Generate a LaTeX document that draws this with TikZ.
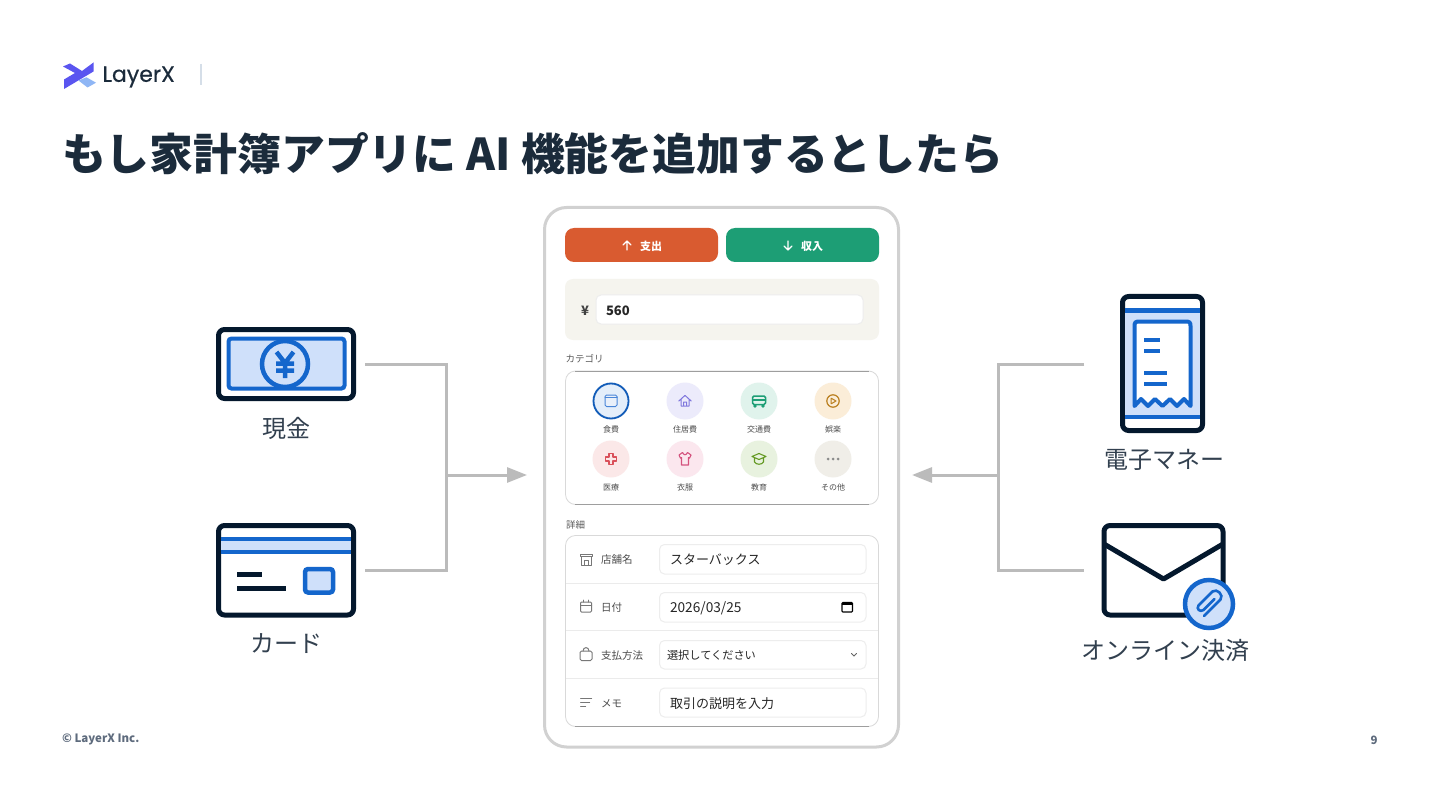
\documentclass[tikz,border=0pt]{standalone}
\usepackage{fontspec}
\setmainfont{Noto Sans CJK JP}
\newfontfamily\logofont[FakeBold=0.5]{Poppins}
\usetikzlibrary{arrows.meta,calc}
\definecolor{ink}{HTML}{1B2B3B}
\definecolor{dk}{HTML}{04182D}
\definecolor{blu}{HTML}{1466CC}
\definecolor{lblu}{HTML}{CFE0FA}
\definecolor{conn}{HTML}{BBBBBB}
\definecolor{gr}{HTML}{777777}
\definecolor{footc}{HTML}{5E6B7D}
\definecolor{sepc}{HTML}{D5DEE8}
\definecolor{HTMLlogo}{HTML}{5A55F0}
\definecolor{HTMLlogol}{HTML}{8FB6F5}
\definecolor{HTMLora}{HTML}{D95B30}
\definecolor{HTMLgre}{HTML}{1D9E75}
\definecolor{HTMLpan}{HTML}{F5F4EE}
\definecolor{HTMLc1}{HTML}{E4EEFA}
\definecolor{HTMLc2}{HTML}{ECEBFB}
\definecolor{HTMLc3}{HTML}{E0F3EC}
\definecolor{HTMLc4}{HTML}{FBEDD8}
\definecolor{HTMLc5}{HTML}{FBE8E8}
\definecolor{HTMLc6}{HTML}{FBE7EE}
\definecolor{HTMLc7}{HTML}{E8F2DF}
\definecolor{HTMLc8}{HTML}{F0EEE8}
\definecolor{HTMLi1}{HTML}{4A86D8}
\definecolor{HTMLi2}{HTML}{7F77DD}
\definecolor{HTMLi3}{HTML}{1D9E75}
\definecolor{HTMLi4}{HTML}{BA7F1F}
\definecolor{HTMLi5}{HTML}{D9505A}
\definecolor{HTMLi6}{HTML}{D4537E}
\definecolor{HTMLi7}{HTML}{639922}
\tikzset{
 txt/.style={inner sep=0pt,outer sep=0pt,text=#1},
 txt/.default=ink,
 bigl/.style={txt,font=\fontsize{24}{28}\selectfont,text=ink!90},
 catl/.style={txt,font=\fontsize{8}{10}\selectfont,text=black!70},
 rowl/.style={txt,anchor=west,font=\fontsize{10.5}{12}\selectfont,text=black!70},
 val/.style={txt,anchor=west,font=\fontsize{13}{16}\selectfont,text=black!85},
 seclab/.style={txt,anchor=west,font=\fontsize{9.5}{11}\selectfont,text=black!65},
 panel/.style={draw=black!15,line width=0.8pt,fill=white,rounded corners=10pt},
 edgeln/.style={draw=black!38,line width=0.8pt},
 field/.style={draw=black!7,line width=1pt,fill=white,rounded corners=5pt},
 hard/.style={draw=dk,line width=5pt,line join=round,rounded corners=6pt,fill=white},
 bl/.style={draw=blu,line width=4pt},
 ico/.style={line width=1pt,line join=round,line cap=round},
 wire/.style={draw=conn,line width=3pt},
 arr/.style={wire,-{Triangle[length=20pt,width=15pt,fill=conn]}},
 cbub/.style={circle,minimum size=37pt,inner sep=0pt,fill=#1},
}
\newcommand{\catbub}[6]{%
 \node[cbub=#4] (c#1) at (#2,#3) {};
 \node[catl] (cl#1) at (#2,#3+28.2) {#5};
 \begin{scope}[shift={(#2,#3)}]#6\end{scope}}
\begin{document}
\begin{tikzpicture}[x=1pt,y=-1pt]
\useasboundingbox[fill=white] (0,0) rectangle (1440,810);
% header
\fill[fill=HTMLlogo] (63,66.5) -- (70,63.5) -- (82,71) -- (93.5,62.5) -- (93.5,71.5) -- (64,89) -- (64,79.5) -- (75,73) -- cycle;
\fill[fill=HTMLlogol] (78.5,80.5) -- (86.5,77.3) -- (96,82.7) -- (87.5,87.5) -- cycle;
\node[txt,anchor=west,font=\logofont\fontsize{22}{26}\selectfont] (logo) at (102.5,77) {LayerX};
\draw[draw=sepc,line width=2pt] (200.5,64) -- (200.5,85);
\node[txt,anchor=west,font=\bfseries\fontsize{43.85}{50}\selectfont] (title) at (62,153.2) {もし家計簿アプリに AI 機能を追加するとしたら};
\node[txt=footc,anchor=west,font=\bfseries\fontsize{11.5}{14}\selectfont] (foot) at (62,739.5) {© LayerX Inc.};
\node[txt=footc,font=\bfseries\fontsize{11.5}{14}\selectfont] (pg) at (1374,740.5) {9};
% phone frame
\draw[draw=black!18,line width=3pt,rounded corners=22pt,fill=white] (544.5,207.5) rectangle (898.5,747);
\fill[fill=HTMLora,rounded corners=9pt] (565,228) rectangle (718,262);
\fill[fill=HTMLgre,rounded corners=9pt] (726,228) rectangle (879,262);
\draw[white,line width=1.1pt,line cap=round,line join=round] (627,250) -- (627,241) (623,245) -- (627,241) -- (631,245);
\draw[white,line width=1.1pt,line cap=round,line join=round] (788,241) -- (788,250) (784,246) -- (788,250) -- (792,246);
\node[txt=white,font=\bfseries\fontsize{11}{13}\selectfont] (bo) at (651,246) {支出};
\node[txt=white,font=\bfseries\fontsize{11}{13}\selectfont] (bi) at (812,246) {収入};
\fill[fill=HTMLpan,rounded corners=8pt] (565,279) rectangle (879,340);
\node[txt=black!75,font=\bfseries\fontsize{13}{15}\selectfont] (yen) at (585,310.5) {¥};
\draw[field] (596,295) rectangle (863,324);
\node[val,font=\bfseries\fontsize{13}{15}\selectfont] (amt) at (606,311) {560};
\node[seclab] (catt) at (565.5,358.5) {カテゴリ};
\draw[panel] (565.5,371) rectangle (878.5,504.5);
\draw[edgeln] (575,371) -- (869,371) (575,504.5) -- (869,504.5);
\catbub{a}{611}{401}{HTMLc1}{食費}{}
\node[circle,draw=blu!90!black,line width=1.8pt,minimum size=35pt,inner sep=0pt] (ca1) at (611,401) {};
\draw[ico,draw=HTMLi1,fill=HTMLi1!12,rounded corners=1.5pt] (605,395) rectangle (617,406.5);
\draw[ico,draw=HTMLi1] (605,397.7) -- (617,397.7);
\catbub{b}{685}{401}{HTMLc2}{住居費}{\draw[ico,draw=HTMLi2] (-6.2,0) -- (0,-5.6) -- (6.2,0) (-4,-1.5) -- (-4,5) -- (4,5) -- (4,-1.5) (-1.5,5) -- (-1.5,1) -- (1.5,1) -- (1.5,5);}
\catbub{c}{759}{401}{HTMLc3}{交通費}{\draw[ico,draw=HTMLi3,line width=1.5pt,rounded corners=1.5pt] (-6.5,-5) rectangle (6.5,3.5); \draw[ico,draw=HTMLi3,line width=1.5pt] (-6.5,-0.8) -- (6.5,-0.8); \fill[fill=HTMLi3] (-4,5) circle (1.8) (4,5) circle (1.8);}
\catbub{d}{833}{401}{HTMLc4}{娯楽}{\draw[ico,draw=HTMLi4,line width=1.2pt] (0,0) circle (6.2); \draw[ico,draw=HTMLi4] (-1.8,-2.8) -- (3,0) -- (-1.8,2.8) -- cycle;}
\catbub{e}{611}{459}{HTMLc5}{医療}{\draw[ico,draw=HTMLi5,line width=1.3pt] (-2,-5.5) -- (2,-5.5) -- (2,-2) -- (5.5,-2) -- (5.5,2) -- (2,2) -- (2,5.5) -- (-2,5.5) -- (-2,2) -- (-5.5,2) -- (-5.5,-2) -- (-2,-2) -- cycle;}
\catbub{f}{685}{459}{HTMLc6}{衣服}{\draw[ico,draw=HTMLi6,line width=1.1pt] (-2.5,-6.5) -- (-6,-4) -- (-4.5,-0.8) -- (-3.5,-1.5) -- (-3.5,6) -- (3.5,6) -- (3.5,-1.5) -- (4.5,-0.8) -- (6,-4) -- (2.5,-6.5) .. controls (1,-3.5) and (-1,-3.5) .. (-2.5,-6.5) -- cycle;}
\catbub{g}{759}{459}{HTMLc7}{教育}{\draw[ico,draw=HTMLi7,line width=1.1pt] (-7,-2.5) -- (0,-5.5) -- (7,-2.5) -- (0,0.5) -- cycle (-4.5,-1) -- (-4.5,3) .. controls (-2.5,6) and (2.5,6) .. (4.5,3) -- (4.5,-1);}
\catbub{h}{833}{459}{HTMLc8}{その他}{\fill[fill=gr!85] (-5,0) circle (1.5) (0,0) circle (1.5) (5,0) circle (1.5);}
\node[seclab] (det) at (566,524.5) {詳細};
\draw[panel] (565.5,535.5) rectangle (878.5,726.5);
\draw[edgeln] (575,726.5) -- (869,726.5);
\draw[black!8,line width=0.8pt] (566,583) -- (878,583) (566,630.5) -- (878,630.5) (566,678.5) -- (878,678.5);
% rows
\draw[field] (659.5,544.5) rectangle (866,574);
\draw[field] (659.5,592.5) rectangle (866,622);
\draw[field] (659.5,640.5) rectangle (866,669);
\draw[field] (659.5,688) rectangle (866,717);
\node[rowl] (r1) at (601,559.8) {店舗名};
\node[rowl] (r2) at (601,607.5) {日付};
\node[rowl] (r3) at (601,655.3) {支払方法};
\node[rowl] (r4) at (601,703.3) {メモ};
\node[val] (v1) at (670,560) {スターバックス};
\node[val,font=\fontsize{13.7}{16}\selectfont] (v2) at (670,608) {2026/03/25};
\node[val,font=\fontsize{11.2}{15}\selectfont] (v3) at (667,655) {選択してください};
\node[val] (v4) at (670,703.5) {取引の説明を入力};
% row icons
\draw[ico,draw=gr] (580,554) -- (592,554) -- (592,556.5) -- (580,556.5) -- cycle (581,556.5) -- (581,565) -- (591,565) -- (591,556.5) (584,565) -- (584,560) -- (588,560) -- (588,565);
\draw[ico,draw=gr,rounded corners=1pt] (580.5,602) rectangle (591.5,612);
\draw[ico,draw=gr] (580.5,605) -- (591.5,605) (583.5,600) -- (583.5,602) (588.5,600) -- (588.5,602);
\draw[ico,draw=gr,rounded corners=1.5pt] (580,651) rectangle (592,660.5);
\draw[ico,draw=gr] (583,651) .. controls (583,646.5) and (589,646.5) .. (589,651);
\draw[ico,draw=gr] (580.5,698.5) -- (591.5,698.5) (580.5,702.5) -- (589.5,702.5) (580.5,706.5) -- (585.5,706.5);
\draw[black,line width=1.1pt,rounded corners=0.8pt] (842,602.5) rectangle (852.5,612);
\draw[black,line width=2pt] (842,603.5) -- (852.5,603.5);
\draw[black!60,line width=0.9pt,line cap=round] (851.5,653.5) -- (854,656) -- (856.5,653.5);
% cash
\draw[hard] (218.5,329.5) rectangle (353.5,398.5);
\draw[bl,fill=lblu,rounded corners=3pt] (228.5,338.5) rectangle (344.5,388.5);
\node[circle,draw=blu,line width=4.5pt,fill=lblu,minimum size=46pt,inner sep=0pt] (cash) at (285,364) {};
\draw[blu,line width=4.5pt,line join=miter] (276.5,352) -- (285,363) -- (293.5,352) (285,363) -- (285,378) (276,363.5) -- (294,363.5) (276,370.5) -- (294,370.5);
\node[bigl] (tcash) at (286,428.5) {現金};
% card
\draw[hard,fill=white] (218.5,525.5) rectangle (353.5,615);
\fill[lblu] (221,539) rectangle (351,552);
\draw[blu,line width=4.5pt] (221,539) -- (351,539) (221,552) -- (351,552);
\draw[dk,line width=5pt] (237,574) -- (262,574) (237,588) -- (286,588);
\draw[bl,line width=4.5pt,fill=lblu,rounded corners=3pt] (305,569) rectangle (333,592.5);
\node[bigl] (tcard) at (286,644) {カード};
% wires left
\coordinate (lw1) at (365,364);
\coordinate (lw2) at (365,570);
\coordinate (lj) at (446,475);
\coordinate (lt) at (527,475);
\draw[wire] (lw1) -- (446,364) -- (446,570) -- (lw2);
\draw[arr] (lj) -- (lt);
% receipt phone
\draw[hard] (1122.5,296.5) rectangle (1202.5,430.5);
\fill[lblu] (1125,310.5) rectangle (1200,417);
\draw[blu,line width=4.5pt] (1125,310.5) -- (1200,310.5) (1125,417) -- (1200,417);
\draw[bl,fill=white,line join=round] (1134.5,406) -- (1134.5,326) .. controls (1134.5,322.5) and (1135.5,321.5) .. (1139,321.5) -- (1186,321.5) .. controls (1189.5,321.5) and (1190.5,322.5) .. (1190.5,326) -- (1190.5,406) -- (1184,399) -- (1177,406) -- (1170,399) -- (1162.5,406) -- (1155,399) -- (1148,406) -- (1141,399) -- cycle;
\draw[blu,line width=4pt] (1144,340) -- (1160,340) (1144,351) -- (1160,351) (1144,372.7) -- (1167,372.7) (1144,384) -- (1167,384);
\node[bigl] (tem) at (1164,459.5) {電子マネー};
% envelope
\draw[hard] (1104,525.5) rectangle (1223,615);
\draw[dk,line width=5pt,line join=round] (1104,544) -- (1163.5,579) -- (1223,544);
\node[circle,draw=blu,line width=4.5pt,fill=lblu,minimum size=48pt,inner sep=0pt,outer sep=0pt] (clip) at (1209,604) {};
\draw[blu,line width=2.6pt,line cap=round] (1204,616) -- (1220.5,599.5) .. controls (1224,595) and (1217,588) .. (1212.5,591.5) -- (1198.5,605.5) .. controls (1196,609) and (1200,612.5) .. (1203.5,610) -- (1214.5,599);
\node[bigl] (ton) at (1165,650.3) {オンライン決済};
% wires right
\coordinate (rw1) at (1084,364);
\coordinate (rw2) at (1084,570);
\coordinate (rj) at (998,475);
\coordinate (rt) at (912,475);
\draw[wire] (rw1) -- (998,364) -- (998,570) -- (rw2);
\draw[arr] (rj) -- (rt);
\end{tikzpicture}
\end{document}
